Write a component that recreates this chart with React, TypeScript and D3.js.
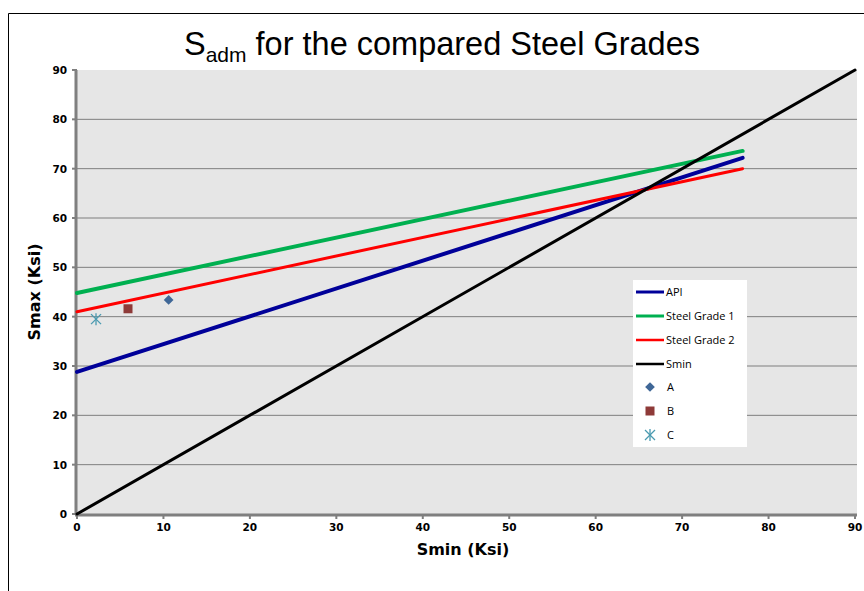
import React from "react";
import * as d3 from "d3";

const xTicks = [0, 10, 20, 30, 40, 50, 60, 70, 80, 90];
const yTicks = [0, 10, 20, 30, 40, 50, 60, 70, 80, 90];

const lineNames = ["API", "Steel Grade 1", "Steel Grade 2", "Smin"];
const lineX = [[0, 77], [0, 77], [0, 77], [0, 90]];
const lineY = [[28.8, 72.2], [44.8, 73.6], [41.0, 70.0], [0, 90]];
const lineColors = ["#000099", "#00b050", "#ff0000", "#000000"];
const lineWidths = [4, 4, 3, 3];

const pointNames = ["A", "B", "C"];
const pointX = [10.6, 5.9, 2.2];
const pointY = [43.4, 41.6, 39.5];
const pointColors = ["#3f6797", "#8e3a38", "#4a9ab0"];
const pointShapes = ["diamond", "square", "asterisk"];

const W = 864, H = 591;
const left = 77, right = 855, top = 70, bottom = 514;

function Marker({ shape, color, x, y }: { shape: string; color: string; x: number; y: number }) {
  if (shape === "diamond") {
    const p = d3.symbol().type(d3.symbolDiamond2).size(60)();
    return <path d={p as string} transform={`translate(${x},${y})`} fill={color} />;
  }
  if (shape === "square") {
    return <rect x={x - 4.5} y={y - 4.5} width={9} height={9} fill={color} />;
  }
  const r = 5;
  return (
    <g stroke={color} strokeWidth={1.3} transform={`translate(${x},${y})`}>
      <line x1={-r} y1={-r} x2={r} y2={r} />
      <line x1={-r} y1={r} x2={r} y2={-r} />
      <line x1={0} y1={-r - 1} x2={0} y2={r + 1} />
    </g>
  );
}

export default function App() {
  const x = d3.scaleLinear().domain([0, 90]).range([left, right]);
  const y = d3.scaleLinear().domain([0, 90]).range([bottom, top]);
  const line = d3.line<[number, number]>().x(d => x(d[0])).y(d => y(d[1]));
  const tickFont = "'DejaVu Sans', Verdana, sans-serif";

  const legX = 633, legY = 280, legW = 114, legH = 167;
  const legRows = [292, 316, 340, 364, 387, 411, 435];

  return (
    <svg width={W} height={H} style={{ position: "absolute", left: 0, top: 0 }}>
      <rect x={0} y={0} width={W} height={H} fill="#fff" />
      <line x1={8.5} y1={13.5} x2={W} y2={13.5} stroke="#000" strokeWidth={1} />
      <line x1={8.5} y1={13.5} x2={8.5} y2={H} stroke="#000" strokeWidth={1} />

      <text x={442} y={55} textAnchor="middle" fontFamily="'Liberation Sans', Arial, sans-serif" fontSize={32.5} fill="#000">
        S<tspan fontSize={21} dy={7}>adm</tspan>
        <tspan dy={-7}> for the compared Steel Grades</tspan>
      </text>

      <rect x={left} y={top} width={right - left + 2} height={bottom - top} fill="#e6e6e6" />
      {yTicks.filter(t => t > 0 && t < 90).map(t => (
        <line key={t} x1={left} x2={right + 2} y1={y(t)} y2={y(t)} stroke="#7f7f7f" strokeWidth={1} />
      ))}

      {/* axes */}
      <line x1={left - 1} x2={left - 1} y1={top} y2={bottom} stroke="#7f7f7f" strokeWidth={3} />
      <line x1={left - 2} x2={right + 2} y1={bottom + 1} y2={bottom + 1} stroke="#7f7f7f" strokeWidth={3} />
      {yTicks.map(t => (
        <line key={t} x1={left - 5} x2={left} y1={y(t)} y2={y(t)} stroke="#7f7f7f" strokeWidth={2} />
      ))}
      {xTicks.map(t => (
        <line key={t} x1={x(t)} x2={x(t)} y1={bottom} y2={bottom + 5} stroke="#7f7f7f" strokeWidth={2} />
      ))}
      {yTicks.map(t => (
        <text key={t} x={left - 10} y={y(t) + 4} textAnchor="end" fontFamily={tickFont} fontWeight="bold" fontSize={10.5} fill="#000">{t}</text>
      ))}
      {xTicks.map(t => (
        <text key={t} x={x(t)} y={bottom + 17} textAnchor="middle" fontFamily={tickFont} fontWeight="bold" fontSize={10.5} fill="#000">{t}</text>
      ))}

      <text x={463} y={555} textAnchor="middle" fontFamily={tickFont} fontWeight="bold" fontSize={16} fill="#000">Smin (Ksi)</text>
      <text transform={`translate(40,${(top + bottom) / 2}) rotate(-90)`} textAnchor="middle" fontFamily={tickFont} fontWeight="bold" fontSize={16} fill="#000">Smax (Ksi)</text>

      {lineNames.map((n, i) => (
        <path key={n} d={line(lineX[i].map((v, j) => [v, lineY[i][j]]) as [number, number][]) as string}
          fill="none" stroke={lineColors[i]} strokeWidth={lineWidths[i]} strokeLinecap="round" />
      ))}
      {pointNames.map((n, i) => (
        <Marker key={n} shape={pointShapes[i]} color={pointColors[i]} x={x(pointX[i])} y={y(pointY[i])} />
      ))}

      {/* legend */}
      <rect x={legX} y={legY} width={legW} height={legH} fill="#fff" />
      {lineNames.map((n, i) => (
        <g key={n}>
          <line x1={636} x2={664} y1={legRows[i]} y2={legRows[i]} stroke={lineColors[i]} strokeWidth={lineWidths[i] === 4 ? 3 : 2.5} />
          <text x={666} y={legRows[i] + 4} fontFamily="'Open Sans', 'Noto Sans', sans-serif" fontSize={11} fill="#000">{n}</text>
        </g>
      ))}
      {pointNames.map((n, i) => (
        <g key={n}>
          <Marker shape={pointShapes[i]} color={pointColors[i]} x={650} y={legRows[4 + i]} />
          <text x={667} y={legRows[4 + i] + 4} fontFamily="'Open Sans', 'Noto Sans', sans-serif" fontSize={11} fill="#000">{n}</text>
        </g>
      ))}
    </svg>
  );
}
